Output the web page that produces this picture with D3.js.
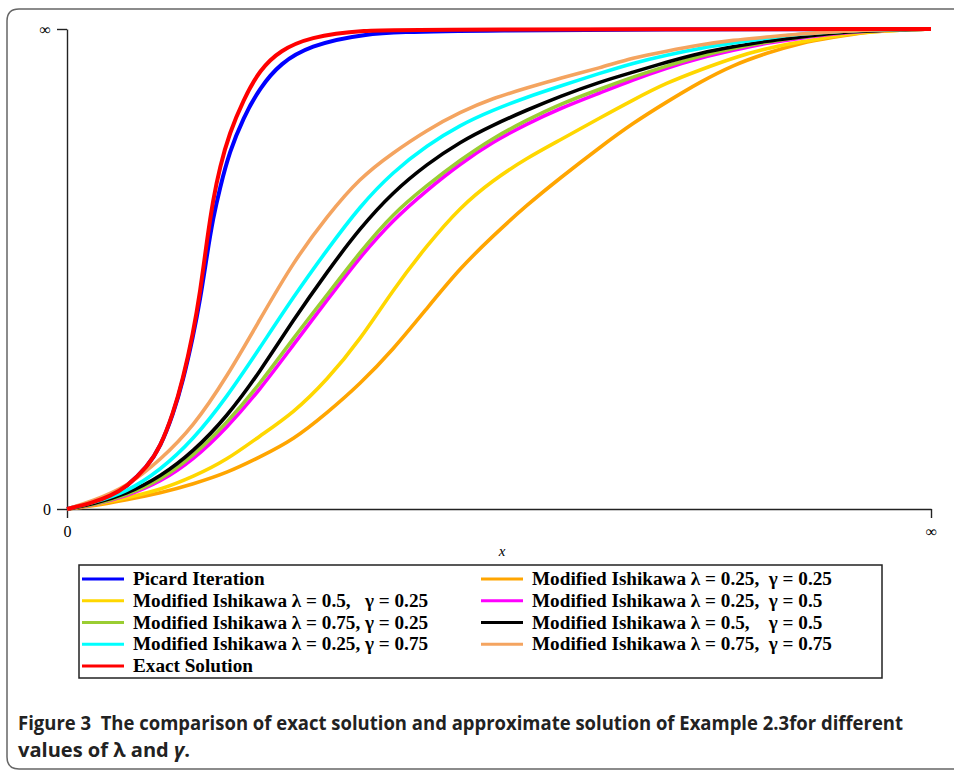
<!DOCTYPE html>
<html>
<head>
<meta charset="utf-8">
<script src="https://cdn.jsdelivr.net/npm/d3@7"></script>
<style>
  body { margin: 0; background: #fff; }
  svg { display: block; }
</style>
</head>
<body>
<div id="chart"></div>
<script>
// x positions (fraction of the axis) for the fast curves and the Ishikawa curves
const xFast = [0, .030, .050, .069, .093, .108, .123, .134, .146, .154, .162, .169, .177, .188, .204, .223, .247, .281, .339, .424, 1];
const xSlow = [0, .030, .069, .108, .146, .185, .223, .262, .301, .339, .377, .417, .455, .493, .532, .571, .617, .655, .694, .733, .771, .810, .849, .887, .926, .964, 1];

const exact  = [0, .013, .027, .046, .088, .129, .200, .269, .367, .450, .560, .644, .713, .783, .852, .915, .956, .983, .998, .999, 1];
const picard = [0, .013, .027, .046, .088, .129, .198, .265, .360, .435, .529, .606, .669, .744, .815, .877, .929, .965, .990, .998, 1];

const ish_25_25 = [0, .006, .019, .033, .052, .075, .108, .144, .200, .260, .331, .419, .502, .569, .633, .690, .754, .804, .848, .890, .925, .950, .971, .983, .994, .998, 1];
const ish_50_25 = [0, .008, .023, .040, .067, .102, .152, .200, .269, .352, .456, .550, .629, .685, .731, .769, .815, .852, .888, .915, .940, .960, .973, .985, .994, .998, 1];
const ish_25_50 = [0, .008, .027, .056, .102, .169, .248, .342, .435, .525, .602, .665, .719, .765, .802, .835, .867, .894, .919, .940, .956, .971, .981, .990, .996, .999, 1];
const ish_75_25 = [0, .008, .029, .060, .110, .179, .260, .356, .446, .535, .615, .675, .727, .773, .810, .844, .875, .900, .923, .944, .960, .973, .983, .992, .996, .999, 1];
const ish_50_50 = [0, .010, .031, .067, .119, .192, .285, .394, .494, .585, .660, .719, .765, .800, .831, .860, .890, .910, .931, .950, .963, .975, .983, .992, .996, .999, 1];
const ish_25_75 = [0, .013, .035, .081, .144, .233, .335, .442, .540, .631, .702, .758, .800, .831, .858, .881, .908, .929, .946, .960, .971, .981, .990, .994, .998, .999, 1];
const ish_75_75 = [0, .017, .046, .102, .171, .275, .394, .515, .610, .690, .742, .790, .827, .856, .877, .898, .919, .940, .954, .967, .977, .983, .990, .994, .998, .999, 1];

const xTickLabels = ['0', '∞'];
const yTickLabels = ['0', '∞'];

// draw order = legend order, exact solution last (on top)
const series = [
  { name: 'Picard Iteration', xs: xFast, ys: picard, color: '#0000ff', col: 0, row: 0 },
  { name: 'Modified Ishikawa λ = 0.25,  γ = 0.25', xs: xSlow, ys: ish_25_25, color: '#ffa500', col: 1, row: 0 },
  { name: 'Modified Ishikawa λ = 0.5,   γ = 0.25', xs: xSlow, ys: ish_50_25, color: '#ffd700', col: 0, row: 1 },
  { name: 'Modified Ishikawa λ = 0.25,  γ = 0.5', xs: xSlow, ys: ish_25_50, color: '#ff00ff', col: 1, row: 1 },
  { name: 'Modified Ishikawa λ = 0.75, γ = 0.25', xs: xSlow, ys: ish_75_25, color: '#9acd32', col: 0, row: 2 },
  { name: 'Modified Ishikawa λ = 0.5,    γ = 0.5', xs: xSlow, ys: ish_50_50, color: '#000000', col: 1, row: 2 },
  { name: 'Modified Ishikawa λ = 0.25, γ = 0.75', xs: xSlow, ys: ish_25_75, color: '#00ffff', col: 0, row: 3 },
  { name: 'Modified Ishikawa λ = 0.75,  γ = 0.75', xs: xSlow, ys: ish_75_75, color: '#f4a460', col: 1, row: 3 },
  { name: 'Exact Solution', xs: xFast, ys: exact, color: '#ff0000', col: 0, row: 4 }
];

const W = 954, H = 772;
const svg = d3.select('#chart').append('svg').attr('width', W).attr('height', H);

// figure frame with rounded left corners
svg.append('path')
  .attr('d', `M${W + 2},769 H19 Q7,769 7,757 V21 Q7,9 19,9 H${W + 2}`)
  .attr('fill', 'none').attr('stroke', '#666').attr('stroke-width', 1.5);

const x = d3.scaleLinear().domain([0, 1]).range([67, 931]);
const y = d3.scaleLinear().domain([0, 1]).range([509, 29]);

const xAxis = svg.append('g').attr('transform', 'translate(0,509)')
  .call(d3.axisBottom(x).tickValues([0, 1]).tickFormat((d, i) => xTickLabels[i])
    .tickSize(9).tickSizeOuter(0).tickPadding(8));
const yAxis = svg.append('g').attr('transform', 'translate(67,0)')
  .call(d3.axisLeft(y).tickValues([0, 1]).tickFormat((d, i) => yTickLabels[i])
    .tickSize(10).tickSizeOuter(0).tickPadding(6));

[xAxis, yAxis].forEach(g => {
  g.selectAll('path, line').attr('stroke', '#222').attr('stroke-width', 1.4);
  g.selectAll('text').attr('font-family', 'Liberation Serif, serif')
    .attr('font-size', 16).attr('fill', '#000');
});

svg.append('text')
  .attr('x', 502).attr('y', 556)
  .attr('text-anchor', 'middle')
  .attr('font-family', 'Liberation Serif, serif')
  .attr('font-style', 'italic').attr('font-size', 15)
  .text('x');

// B-spline through the read points smooths out reading noise
const line = d3.line().curve(d3.curveBasis);

svg.append('g').selectAll('path')
  .data(series)
  .join('path')
  .attr('d', s => line(s.xs.map((v, i) => [x(v), y(s.ys[i])])))
  .attr('fill', 'none')
  .attr('stroke', s => s.color)
  .attr('stroke-width', s => (s.xs === xFast ? 4 : 3.6));

// legend
const legend = svg.append('g');
legend.append('rect')
  .attr('x', 79).attr('y', 565).attr('width', 803).attr('height', 113)
  .attr('fill', '#fff').attr('stroke', '#222').attr('stroke-width', 1.5);

const colX = [82, 481];
const rowY = d3.scaleLinear().domain([0, 4]).range([579, 666]);

const item = legend.selectAll('g.item')
  .data(series)
  .join('g')
  .attr('class', 'item')
  .attr('transform', s => `translate(${colX[s.col]},${rowY(s.row)})`);

item.append('line')
  .attr('x1', 0).attr('x2', 42)
  .attr('stroke', s => s.color).attr('stroke-width', 3);

item.append('text')
  .attr('x', 51).attr('y', 6)
  .attr('font-family', 'Liberation Serif, serif')
  .attr('font-weight', 'bold').attr('font-size', 19.2)
  .style('white-space', 'pre')
  .text(s => s.name);

// caption
const cap = svg.append('g')
  .attr('font-family', 'Open Sans, sans-serif')
  .attr('font-weight', 'bold').attr('font-size', 19).attr('fill', '#222');
cap.append('text').attr('x', 18).attr('y', 730)
  .attr('textLength', 885).attr('lengthAdjust', 'spacingAndGlyphs')
  .style('white-space', 'pre')
  .text('Figure 3  The comparison of exact solution and approximate solution of Example 2.3for different');
const l2 = cap.append('text').attr('x', 18).attr('y', 757)
  .attr('textLength', 172).attr('lengthAdjust', 'spacingAndGlyphs');
l2.append('tspan').text('values of λ and ');
l2.append('tspan').attr('font-style', 'italic').text('γ');
l2.append('tspan').text('.');
</script>
</body>
</html>
